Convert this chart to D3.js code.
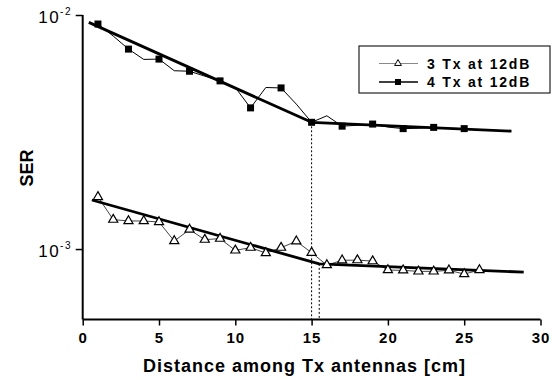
<!DOCTYPE html>
<html>
<head>
<meta charset="utf-8">
<script src="https://cdn.jsdelivr.net/npm/d3@7"></script>
<style>
  body { margin: 0; background: #fff; }
  svg { display: block; font-family: Arial, "Liberation Sans", sans-serif; }
</style>
</head>
<body>
<svg id="chart" width="558" height="380"></svg>
<script>
// data
const distance = [1, 2, 3, 4, 5, 6, 7, 8, 9, 10, 11, 12, 13, 14, 15, 16, 17, 18, 19, 20, 21, 22, 23, 24, 25, 26];
const ser3Tx = [1.67e-3, 1.336e-3, 1.318e-3, 1.318e-3, 1.305e-3, 1.082e-3, 1.211e-3, 1.097e-3, 1.108e-3, 0.987e-3,
  1.014e-3, 0.961e-3, 1.014e-3, 1.079e-3, 0.965e-3, 0.854e-3, 0.895e-3, 0.897e-3, 0.888e-3, 0.813e-3,
  0.811e-3, 0.803e-3, 0.803e-3, 0.811e-3, 0.782e-3, 0.813e-3];
const ser4Tx = [9.15e-3, 8.13e-3, 7.15e-3, 6.46e-3, 6.48e-3, 5.78e-3, 5.75e-3, 5.48e-3, 5.23e-3, 4.90e-3,
  4.01e-3, 4.90e-3, 4.88e-3, 4.16e-3, 3.48e-3, 3.71e-3, 3.35e-3, 3.38e-3, 3.42e-3, 3.32e-3,
  3.27e-3, 3.28e-3, 3.31e-3, 3.28e-3, 3.27e-3];
// piecewise fits (start, knee, end)
const fit3Tx = [[0.6, 1.62e-3], [15.5, 0.864e-3], [28.9, 0.797e-3]];
const fit4Tx = [[0.4, 9.3e-3], [15, 3.48e-3], [28.1, 3.19e-3]];
const xMajor = [0, 5, 10, 15, 20, 25, 30];
const xMinor = [2.5, 7.5, 12.5, 17.5, 22.5, 27.5];
const yMajor = [1e-2, 1e-3];
const yMinor = [6e-4, 7e-4, 8e-4, 9e-4, 2e-3, 3e-3, 4e-3, 5e-3, 6e-3, 7e-3, 8e-3, 9e-3];
const seriesNames = ["3 Tx at 12dB", "4 Tx at 12dB"];

const svg = d3.select("#chart");
const plotLeft = 82.7, plotRight = 540.5, plotTop = 15, plotBottom = 319.5;

const x = d3.scaleLinear().domain([0, 30]).range([plotLeft, plotRight]);
const y = d3.scaleLog().domain([5e-4, 1e-2]).range([plotBottom, plotTop]);

svg.append("rect").attr("width", 558).attr("height", 380).attr("fill", "#fff");

// axes
const gx = svg.append("g").attr("transform", `translate(0,${plotBottom})`);
gx.call(d3.axisBottom(x).tickValues(xMinor).tickSize(4).tickFormat(""));
gx.call(d3.axisBottom(x).tickValues(xMajor).tickSize(6).tickPadding(7).tickFormat(d3.format("d")));
gx.select(".domain").attr("stroke-width", 2).attr("d", `M${plotLeft},0H${plotRight}`);
gx.selectAll(".tick line").attr("stroke-width", 1.5);
gx.selectAll(".tick text").attr("font-size", 15).attr("font-weight", "bold")
  .attr("fill", "#000").attr("letter-spacing", 1)
  .attr("font-family", "Arial, 'Liberation Sans', sans-serif");

const gy = svg.append("g").attr("transform", `translate(${plotLeft},0)`);
gy.call(d3.axisLeft(y).tickValues(yMinor).tickSize(4).tickFormat(""));
gy.call(d3.axisLeft(y).tickValues(yMajor).tickSize(7).tickFormat(""));
gy.select(".domain").attr("stroke-width", 2).attr("d", `M0,${plotTop}V${plotBottom}`);
gy.selectAll(".tick line").attr("stroke-width", 1.5);

// y labels as 10 with superscript exponent
yMajor.forEach(v => {
  const t = svg.append("text")
    .attr("x", 72).attr("y", y(v) + 8)
    .attr("text-anchor", "end")
    .attr("font-size", 17).attr("letter-spacing", 1.5);
  t.append("tspan").text("10");
  t.append("tspan").attr("font-size", 10).attr("dy", -8).text(Math.round(Math.log10(v)));
});

// axis titles
svg.append("text")
  .attr("x", (plotLeft + plotRight) / 2 - 7).attr("y", 372)
  .attr("text-anchor", "middle")
  .attr("font-size", 18).attr("font-weight", "bold").attr("letter-spacing", 1)
  .text("Distance among Tx antennas [cm]");

svg.append("text")
  .attr("transform", "translate(33,168) rotate(-90)")
  .attr("text-anchor", "middle")
  .attr("font-size", 18).attr("font-weight", "bold")
  .text("SER");

// dotted drop lines at the fit knees
[fit4Tx[1], fit3Tx[1]].forEach(k => {
  svg.append("line")
    .attr("x1", x(k[0])).attr("x2", x(k[0]))
    .attr("y1", y(k[1])).attr("y2", plotBottom)
    .attr("stroke", "#000").attr("stroke-width", 1)
    .attr("stroke-dasharray", "2,2");
});

const line = d3.line().x(d => x(d[0])).y(d => y(d[1]));

// measured curves
const pts3 = distance.map((d, i) => [d, ser3Tx[i]]);
const pts4 = ser4Tx.map((v, i) => [distance[i], v]);

svg.append("path").datum(pts3).attr("d", line)
  .attr("fill", "none").attr("stroke", "#444").attr("stroke-width", 1);
svg.append("path").datum(pts4).attr("d", line)
  .attr("fill", "none").attr("stroke", "#000").attr("stroke-width", 1);

// fit lines
[fit3Tx, fit4Tx].forEach(f => {
  svg.append("path").datum(f).attr("d", line)
    .attr("fill", "none").attr("stroke", "#000").attr("stroke-width", 2.8)
    .attr("stroke-linejoin", "round");
});

// markers
const tri = d3.symbol().type(d3.symbolTriangle).size(36);
svg.append("g").selectAll("path").data(pts3).join("path")
  .attr("d", tri)
  .attr("transform", d => `translate(${x(d[0])},${y(d[1])})`)
  .attr("fill", "#fff").attr("stroke", "#000").attr("stroke-width", 1.2);

svg.append("g").selectAll("rect").data(pts4.filter((d, i) => i % 2 === 0)).join("rect")
  .attr("x", d => x(d[0]) - 3.5).attr("y", d => y(d[1]) - 3.5)
  .attr("width", 7).attr("height", 7).attr("fill", "#000");

// legend
const lg = svg.append("g");
lg.append("rect").attr("x", 359).attr("y", 46).attr("width", 191).attr("height", 47)
  .attr("fill", "#fff").attr("stroke", "#222").attr("stroke-width", 1.2);
seriesNames.forEach((name, i) => {
  const ly = 63.5 + i * 18.5;
  lg.append("line").attr("x1", 379).attr("x2", 418).attr("y1", ly).attr("y2", ly)
    .attr("stroke", i === 0 ? "#888" : "#000").attr("stroke-width", i === 0 ? 1 : 1.5);
  if (i === 0) {
    lg.append("path").attr("d", d3.symbol().type(d3.symbolTriangle).size(20))
      .attr("transform", `translate(398,${ly})`)
      .attr("fill", "#fff").attr("stroke", "#000").attr("stroke-width", 1);
  } else {
    lg.append("rect").attr("x", 395).attr("y", ly - 3).attr("width", 6).attr("height", 6).attr("fill", "#000");
  }
  lg.append("text").attr("x", 427).attr("y", ly + 5)
    .attr("font-size", 14).attr("font-weight", "bold").attr("letter-spacing", 1.8)
    .text(name);
});
</script>
</body>
</html>
